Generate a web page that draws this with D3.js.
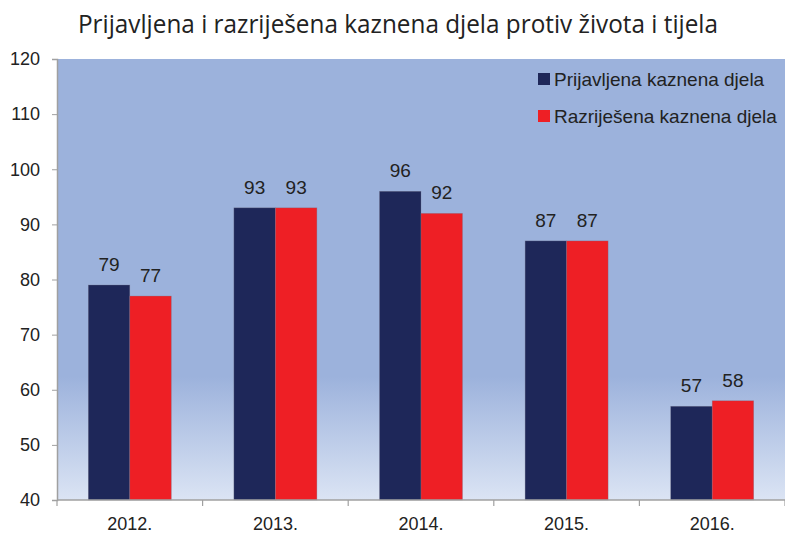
<!DOCTYPE html>
<html><head><meta charset="utf-8">
<script src="https://cdn.jsdelivr.net/npm/d3@7"></script>
<style>body{margin:0;background:#fff}svg{display:block}</style>
</head><body>
<script>
const categories = ["2012.", "2013.", "2014.", "2015.", "2016."];
const seriesNames = ["Prijavljena kaznena djela", "Razriješena kaznena djela"];
const prijavljena = [79, 93, 96, 87, 57];
const razrijesena = [77, 93, 92, 87, 58];
const yTicks = [40, 50, 60, 70, 80, 90, 100, 110, 120];
const colors = ["#1e2759", "#ee1f25"];

const W = 785, H = 533;
const m = {left: 57, right: 0, top: 59, bottom: 32};
const FONT = "Liberation Sans, Arial, sans-serif";
const svg = d3.select("body").append("svg").attr("width", W).attr("height", H);
const defs = svg.append("defs");
const g1 = defs.append("linearGradient").attr("id", "bg").attr("x1", 0).attr("x2", 0).attr("y1", 0).attr("y2", 1);
g1.append("stop").attr("offset", "0").attr("stop-color", "#9cb2dc");
g1.append("stop").attr("offset", "0.72").attr("stop-color", "#9cb2dc");
g1.append("stop").attr("offset", "1").attr("stop-color", "#dbe4f4");

const x = d3.scaleBand().domain(categories).range([m.left, W - m.right]).paddingInner(0).paddingOuter(0);
const y = d3.scaleLinear().domain([40, 120]).range([H - m.bottom - 1, m.top]);
const xs = d3.scaleBand().domain([0, 1]).range([0, 83]);
const groupOff = (x.bandwidth() - 83) / 2;

svg.append("rect").attr("x", m.left).attr("y", m.top).attr("width", W - m.right - m.left)
  .attr("height", y(40) - m.top).attr("fill", "url(#bg)");

const data = categories.map((c, i) => ({c, v: [prijavljena[i], razrijesena[i]]}));
const grp = svg.append("g").selectAll("g").data(data).join("g")
  .attr("transform", d => `translate(${x(d.c) + groupOff},0)`);
grp.selectAll("rect").data(d => d.v).join("rect")
  .attr("x", (d, i) => xs(i)).attr("width", xs.bandwidth())
  .attr("y", d => y(d)).attr("height", d => y(40) - y(d))
  .attr("fill", (d, i) => colors[i]).attr("stroke", "rgba(120,120,140,0.5)").attr("stroke-width", 0.6);
grp.selectAll("text").data(d => d.v).join("text")
  .attr("x", (d, i) => xs(i) + xs.bandwidth() / 2).attr("y", d => y(d) - 14)
  .attr("text-anchor", "middle").attr("font-family", FONT)
  .attr("font-size", 19).attr("fill", "#222").text(d => d);

// Y axis
const ya = svg.append("g").attr("transform", `translate(${m.left},0)`)
  .call(d3.axisLeft(y).tickValues(yTicks).tickSize(5).tickPadding(12));
ya.select(".domain").attr("stroke", "#a0a0a0").attr("stroke-width", 1.5);
ya.selectAll(".tick line").attr("stroke", "#a0a0a0");
ya.selectAll("text").attr("font-family", FONT).attr("font-size", 18).attr("fill", "#222");

// X axis
const xa = svg.append("g").attr("transform", `translate(0,${y(40)})`);
xa.append("line").attr("x1", m.left).attr("x2", W).attr("stroke", "#a0a0a0").attr("stroke-width", 1.5);
xa.selectAll("line.t").data(categories.map(c => x(c)).concat([x(categories[categories.length-1]) + x.bandwidth()]))
  .join("line").attr("class", "t").attr("x1", d => d).attr("x2", d => d).attr("y1", 0).attr("y2", 6)
  .attr("stroke", "#a0a0a0").attr("stroke-width", 1.2);
xa.selectAll("text").data(categories).join("text")
  .attr("x", d => x(d) + x.bandwidth() / 2).attr("y", 30).attr("text-anchor", "middle")
  .attr("font-family", FONT).attr("font-size", 18).attr("fill", "#222").text(d => d);

// Legend
const lg = svg.append("g").selectAll("g").data(seriesNames).join("g")
  .attr("transform", (d, i) => `translate(538,${73 + i * 37})`);
lg.append("rect").attr("width", 12).attr("height", 12).attr("fill", (d, i) => colors[i]);
lg.append("text").attr("x", 16).attr("y", 13).attr("font-family", FONT)
  .attr("font-size", 19).attr("fill", "#222").text(d => d);

// Title
svg.append("text").attr("x", 398).attr("y", 33).attr("text-anchor", "middle")
  .attr("font-family", "Open Sans, sans-serif").attr("font-size", 26).attr("fill", "#222")
  .attr("textLength", 640).attr("lengthAdjust", "spacingAndGlyphs")
  .text("Prijavljena i razriješena kaznena djela protiv života i tijela");
</script>
</body></html>
